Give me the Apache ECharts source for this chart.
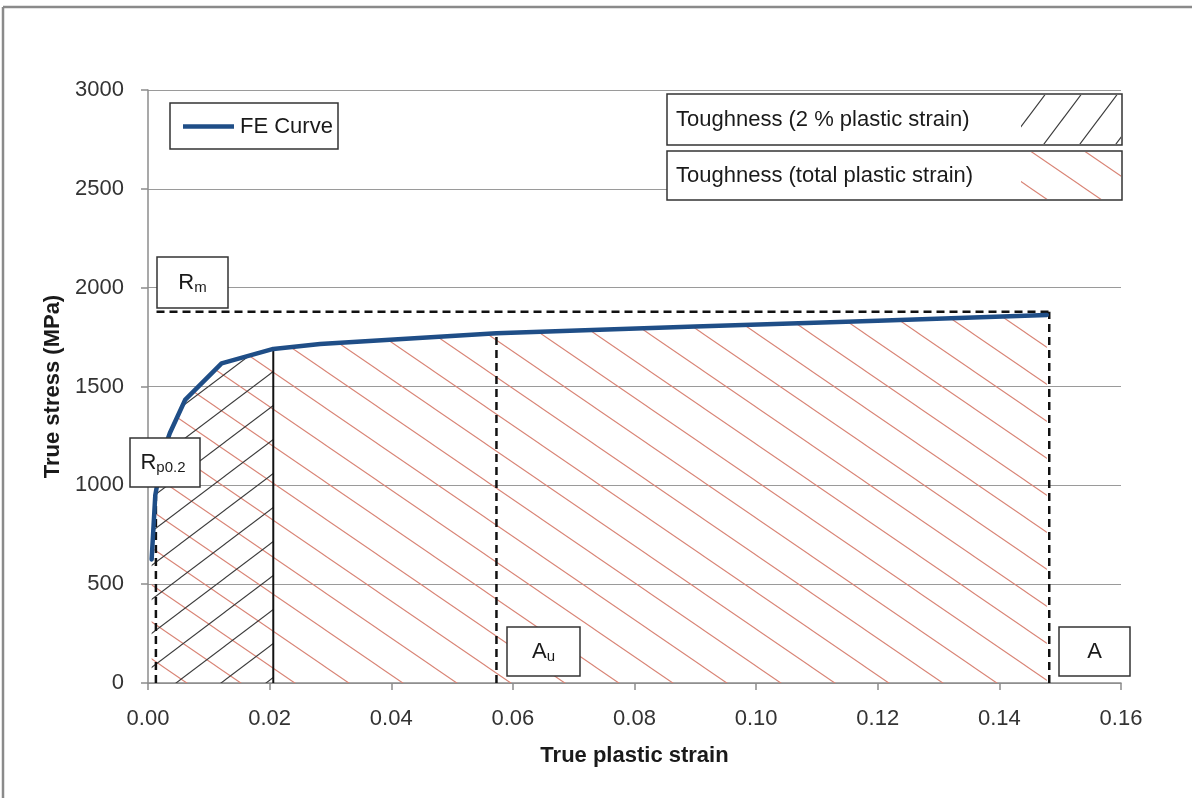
<!DOCTYPE html>
<html>
<head>
<meta charset="utf-8">
<script src="https://cdn.jsdelivr.net/npm/echarts@6/dist/echarts.min.js"></script>
<style>
html,body{margin:0;padding:0;background:#fff;}
#chart{width:1192px;height:798px;}
</style>
</head>
<body>
<div id="chart"></div>
<script>
// ---- data ----
const strain = [0.0006, 0.0012, 0.0025, 0.0036, 0.0061, 0.0121, 0.0206, 0.0283, 0.0573, 0.0900, 0.1200, 0.1478];
const stress = [625, 950, 1170, 1265, 1432, 1617, 1690, 1715, 1769, 1803, 1833, 1862];
const strain2pct = 0.0206;          // end of 2 % toughness region
const rp02Point = [0.0013, 945];    // Rp0.2 marker
const auPoint = [0.0573, 1769];     // uniform elongation
const aPoint = [0.1482, 1878];      // elongation at fracture
const rmValue = 1878;               // tensile strength
const rmStart = 0.0014;
const xTicks = { min: 0, max: 0.16, interval: 0.02 };
const yTicks = { min: 0, max: 3000, interval: 500 };

// ---- hatch patterns ----
function hatch(color, sx, sy, dir, lw) {
  const c = document.createElement('canvas');
  c.width = sx; c.height = sy;
  const g = c.getContext('2d');
  g.strokeStyle = color; g.lineWidth = lw;
  for (let k = -1; k <= 1; k++) {
    g.beginPath();
    if (dir === '\\') { g.moveTo(k*sx - sx, -sy); g.lineTo(k*sx + 2*sx, 2*sy); }
    else { g.moveTo(k*sx - sx, 2*sy); g.lineTo(k*sx + 2*sx, -sy); }
    g.stroke();
  }
  return c;
}
const redHatch = hatch('#d98475', 54, 37, '\\', 1.1);
const blackHatch = hatch('#3a3a3a', 45, 34, '/', 1.1);
const blackHatchLegend = hatch('#3a3a3a', 36, 48, '/', 1.1);

const curve = strain.map((s, i) => [s, stress[i]]);
const curve2 = curve.filter(p => p[0] <= strain2pct + 1e-9);

const FONT = '"Liberation Sans", Arial, sans-serif';
const TXT = '#1a1a1a';
const dash = [8, 5];

const chart = echarts.init(document.getElementById('chart'));
chart.setOption({
  animation: false,
  backgroundColor: '#fff',
  grid: { left: 148, right: 71, top: 90, bottom: 115, containLabel: false, outerBoundsMode: 'none' },
  xAxis: {
    type: 'value', min: xTicks.min, max: xTicks.max, interval: xTicks.interval,
    name: 'True plastic strain', nameLocation: 'middle', nameGap: 62,
    nameTextStyle: { fontFamily: FONT, fontSize: 22, fontWeight: 'bold', color: TXT },
    axisLine: { show: true, lineStyle: { color: '#8c8c8c', width: 1.5 } },
    axisTick: { show: true, length: 7, lineStyle: { color: '#8c8c8c', width: 1.5 } },
    axisLabel: { fontFamily: FONT, fontSize: 22, color: '#333', margin: 25,
      formatter: v => v.toFixed(2), showMaxLabel: true, showMinLabel: true, hideOverlap: false },
    splitLine: { show: false }
  },
  yAxis: {
    type: 'value', min: yTicks.min, max: yTicks.max, interval: yTicks.interval,
    name: 'True stress (MPa)', nameLocation: 'middle', nameGap: 79,
    nameTextStyle: { fontFamily: FONT, fontSize: 22, fontWeight: 'bold', color: TXT },
    axisLine: { show: true, lineStyle: { color: '#8c8c8c', width: 1.5 } },
    axisTick: { show: true, length: 7, lineStyle: { color: '#8c8c8c', width: 1.5 } },
    axisLabel: { fontFamily: FONT, fontSize: 22, color: '#333', margin: 24, formatter: v => String(v) },
    splitLine: { show: true, lineStyle: { color: '#9a9a9a', width: 1.2 } }
  },
  series: [
    { name: 'Toughness (total plastic strain)', type: 'line', data: curve, symbol: 'none', z: 1,
      lineStyle: { width: 0 }, areaStyle: { color: { image: redHatch, repeat: 'repeat' }, opacity: 1 } },
    { name: 'Toughness (2 % plastic strain)', type: 'line', data: curve2, symbol: 'none', z: 2,
      lineStyle: { width: 0 }, areaStyle: { color: { image: blackHatch, repeat: 'repeat' }, opacity: 1 } },
    { name: '2pct', type: 'line', symbol: 'none', z: 3,
      data: [[strain2pct, 0], [strain2pct, curve2[curve2.length-1][1]]],
      lineStyle: { color: '#111', width: 2 } },
    { name: 'Rp', type: 'line', symbol: 'none', z: 3,
      data: [[rp02Point[0], 0], rp02Point], lineStyle: { color: '#111', width: 2.5, type: dash } },
    { name: 'Au', type: 'line', symbol: 'none', z: 3,
      data: [[auPoint[0], 0], auPoint], lineStyle: { color: '#111', width: 2.5, type: dash } },
    { name: 'A', type: 'line', symbol: 'none', z: 3,
      data: [[aPoint[0], 0], aPoint], lineStyle: { color: '#111', width: 2.5, type: dash } },
    { name: 'Rm', type: 'line', symbol: 'none', z: 3,
      data: [[rmStart, rmValue], [aPoint[0], rmValue]], lineStyle: { color: '#111', width: 2.5, type: dash } },
    { name: 'FE Curve', type: 'line', data: curve, symbol: 'none', z: 5,
      lineStyle: { color: '#1f4e87', width: 4.5, join: 'round', cap: 'round' } }
  ],
  graphic: [
    // outer frame
    { type: 'line', shape: { x1: 3, y1: 7, x2: 1192, y2: 7 }, style: { stroke: '#8a8a8a', lineWidth: 2.5 }, z: 100 },
    { type: 'line', shape: { x1: 3, y1: 7, x2: 3, y2: 798 }, style: { stroke: '#8a8a8a', lineWidth: 2.5 }, z: 100 },
    // FE Curve legend
    { type: 'rect', shape: { x: 170, y: 103, width: 168, height: 46 }, style: { fill: '#fff', stroke: '#333', lineWidth: 1.5 }, z: 100 },
    { type: 'line', shape: { x1: 183, y1: 126.5, x2: 234, y2: 126.5 }, style: { stroke: '#1f4e87', lineWidth: 4.5 }, z: 101 },
    { type: 'text', x: 240, y: 127, style: { text: 'FE Curve', font: '22px ' + FONT, fill: TXT, verticalAlign: 'middle' }, z: 101 },
    // toughness legend
    { type: 'rect', shape: { x: 667, y: 94, width: 455, height: 51 }, style: { fill: '#fff', stroke: '#333', lineWidth: 1.5 }, z: 100 },
    { type: 'rect', shape: { x: 1021, y: 95, width: 100, height: 49 }, style: { fill: { image: blackHatchLegend, repeat: 'repeat' } }, z: 101 },
    { type: 'text', x: 676, y: 120, style: { text: 'Toughness (2 % plastic strain)', font: '22px ' + FONT, fill: TXT, verticalAlign: 'middle' }, z: 102 },
    { type: 'rect', shape: { x: 667, y: 151, width: 455, height: 49 }, style: { fill: '#fff', stroke: '#333', lineWidth: 1.5 }, z: 100 },
    { type: 'rect', shape: { x: 1021, y: 152, width: 100, height: 47 }, style: { fill: { image: redHatch, repeat: 'repeat' } }, z: 101 },
    { type: 'text', x: 676, y: 176, style: { text: 'Toughness (total plastic strain)', font: '22px ' + FONT, fill: TXT, verticalAlign: 'middle' }, z: 102 },
    // Rm
    { type: 'rect', shape: { x: 157, y: 257, width: 71, height: 51 }, style: { fill: '#fff', stroke: '#333', lineWidth: 1.5 }, z: 100 },
    { type: 'text', x: 192.5, y: 283, style: { text: '{b|R}{s|m}', align: 'center', verticalAlign: 'middle', fill: TXT,
      rich: { b: { fontSize: 22, fontFamily: FONT, fill: TXT }, s: { fontSize: 15, fontFamily: FONT, fill: TXT, padding: [10, 0, 0, 0] } } }, z: 101 },
    // Rp0.2
    { type: 'rect', shape: { x: 130, y: 438, width: 70, height: 49 }, style: { fill: '#fff', stroke: '#333', lineWidth: 1.5 }, z: 100 },
    { type: 'text', x: 163, y: 463, style: { text: '{b|R}{s|p0.2}', align: 'center', verticalAlign: 'middle', fill: TXT,
      rich: { b: { fontSize: 22, fontFamily: FONT, fill: TXT }, s: { fontSize: 15, fontFamily: FONT, fill: TXT, padding: [10, 0, 0, 0] } } }, z: 101 },
    // Au
    { type: 'rect', shape: { x: 507, y: 627, width: 73, height: 49 }, style: { fill: '#fff', stroke: '#333', lineWidth: 1.5 }, z: 100 },
    { type: 'text', x: 543.5, y: 652, style: { text: '{b|A}{s|u}', align: 'center', verticalAlign: 'middle', fill: TXT,
      rich: { b: { fontSize: 22, fontFamily: FONT, fill: TXT }, s: { fontSize: 15, fontFamily: FONT, fill: TXT, padding: [10, 0, 0, 0] } } }, z: 101 },
    // A
    { type: 'rect', shape: { x: 1059, y: 627, width: 71, height: 49 }, style: { fill: '#fff', stroke: '#333', lineWidth: 1.5 }, z: 100 },
    { type: 'text', x: 1094.5, y: 652, style: { text: 'A', font: '22px ' + FONT, align: 'center', verticalAlign: 'middle', fill: TXT }, z: 101 }
  ]
});
</script>
</body>
</html>
